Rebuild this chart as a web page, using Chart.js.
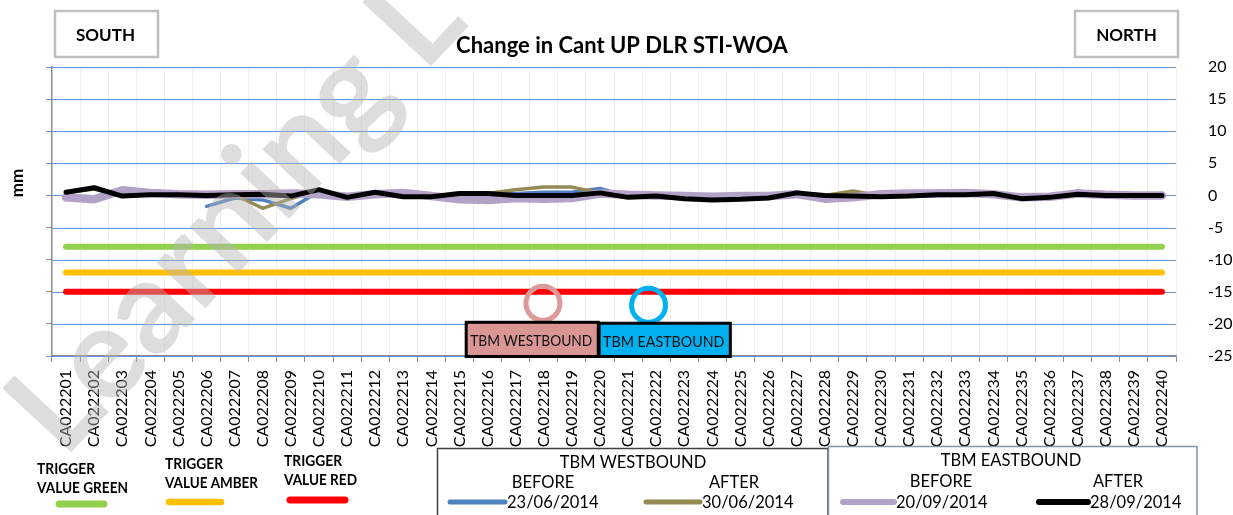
<!DOCTYPE html>
<html><head><meta charset="utf-8">
<script src="https://cdn.jsdelivr.net/npm/chart.js@4.4.1/dist/chart.umd.min.js"></script>
<style>html,body{margin:0;padding:0;background:#fff;}</style>
</head><body>
<canvas id="c" width="1233" height="515"></canvas>
<script>
const categories = ['CA022201','CA022202','CA022203','CA022204','CA022205','CA022206','CA022207','CA022208','CA022209','CA022210',
  'CA022211','CA022212','CA022213','CA022214','CA022215','CA022216','CA022217','CA022218','CA022219','CA022220',
  'CA022221','CA022222','CA022223','CA022224','CA022225','CA022226','CA022227','CA022228','CA022229','CA022230',
  'CA022231','CA022232','CA022233','CA022234','CA022235','CA022236','CA022237','CA022238','CA022239','CA022240'];
// TBM WESTBOUND BEFORE 23/06/2014
const wbBefore = [null,null,null,null,null,-1.7,-0.4,-0.7,-2.0,0.6,-0.2,0.4,-0.2,-0.2,0.2,0.2,0.3,0.5,0.5,1.1,
  -0.2,-0.1,-0.4,-0.5,-0.4,-0.3,0.3,0,-0.1,-0.1,0,0.1,0.1,0.2,-0.4,-0.2,0.7,0.1,0.1,0];
// TBM WESTBOUND AFTER 30/06/2014
const wbAfter = [0.4,1.0,0,0.2,0.1,0.2,0.1,-2.0,-0.5,0.7,-0.2,0.4,-0.2,-0.2,0.2,0.3,0.9,1.3,1.3,0.4,
  -0.2,-0.1,-0.4,-0.5,-0.4,-0.3,0.3,0,0.7,-0.1,0,0.1,0.1,0.2,-0.4,-0.2,0.3,0.2,0.1,0.1];
// TBM EASTBOUND BEFORE 20/09/2014
const ebBefore = [-0.3,-0.6,0.8,0.4,0.2,0.1,0.2,0.2,0.3,0.2,-0.2,0.2,0.4,-0.1,-0.6,-0.7,-0.4,-0.5,-0.4,0.3,
  0.1,0,-0.1,-0.2,-0.1,-0.1,0.2,-0.5,-0.3,0.2,0.3,0.3,0.4,0.2,-0.3,-0.2,0.3,0.1,0,0];
// TBM EASTBOUND AFTER 28/09/2014
const ebAfter = [0.5,1.2,-0.1,0.1,0.1,0,0.1,0.2,-0.1,0.9,-0.3,0.5,-0.2,-0.2,0.3,0.3,0,0,0,0.4,
  -0.3,-0.1,-0.5,-0.7,-0.6,-0.4,0.4,0,-0.1,-0.2,-0.1,0.1,0.1,0.3,-0.5,-0.3,0.2,0,0,0];
const triggerGreen = -8, triggerAmber = -12, triggerRed = -15;
const yTickValues = [20,15,10,5,0,-5,-10,-15,-20,-25];

Chart.defaults.font.family = 'Lato, "Open Sans", sans-serif';

function txt(ctx, s, x, y, font, align, maxW, color) {
  ctx.font = font; ctx.textAlign = align || 'left'; ctx.textBaseline = 'alphabetic';
  ctx.fillStyle = color || '#000';
  if (maxW) ctx.fillText(s, x, y, maxW); else ctx.fillText(s, x, y);
}
function seg(ctx, x1, y1, x2, y2, color, w) {
  ctx.beginPath(); ctx.moveTo(x1, y1); ctx.lineTo(x2, y2);
  ctx.strokeStyle = color; ctx.lineWidth = w; ctx.lineCap = 'round'; ctx.stroke();
}

const deco = {
  id: 'deco',
  beforeDatasetsDraw(chart) {
    const ctx = chart.ctx, ys = chart.scales.y, a = chart.chartArea;
    ctx.save();
    ctx.strokeStyle = '#5f95dd'; ctx.lineWidth = 1.2;
    ys.ticks.forEach(t => {
      const py = Math.round(ys.getPixelForValue(t.value)) + 0.5;
      ctx.beginPath(); ctx.moveTo(a.left, py); ctx.lineTo(a.right, py); ctx.stroke();
    });
    ctx.restore();
  },
  afterDatasetsDraw(chart) {
    const ctx = chart.ctx, xs = chart.scales.x, ys = chart.scales.y;
    ctx.save();
    ctx.lineWidth = 5;
    ctx.strokeStyle = '#dc9b99';
    ctx.beginPath(); ctx.arc(xs.getPixelForValue(16.97), ys.getPixelForValue(-16.8), 17, 0, Math.PI * 2); ctx.stroke();
    ctx.strokeStyle = '#00b0f0';
    ctx.beginPath(); ctx.arc(xs.getPixelForValue(20.73), ys.getPixelForValue(-17.1), 17, 0, Math.PI * 2); ctx.stroke();
    const boxes = [
      { x1: 14.24, x2: 18.94, y1: -19.75, fill: '#d99694', label: 'TBM WESTBOUND' },
      { x1: 18.97, x2: 23.64, y1: -19.9, fill: '#00b0f0', label: 'TBM EASTBOUND' }
    ];
    boxes.forEach(b => {
      const l = xs.getPixelForValue(b.x1), r = xs.getPixelForValue(b.x2);
      const t = ys.getPixelForValue(b.y1), bt = ys.getPixelForValue(-25) + 0.5;
      ctx.fillStyle = b.fill; ctx.fillRect(l, t, r - l, bt - t);
      ctx.strokeStyle = '#000'; ctx.lineWidth = 3; ctx.strokeRect(l, t, r - l, bt - t);
      txt(ctx, b.label, l + 4, t + 24, '14.5px Lato', 'left', r - l - 10, '#111');
    });
    ctx.restore();
  },
  afterDraw(chart) {
    const ctx = chart.ctx;
    ctx.save();
    txt(ctx, 'Change in Cant UP DLR STI-WOA', 622, 53, 'bold 22px Lato', 'center', 340);
    ctx.strokeStyle = '#bfbfbf'; ctx.lineWidth = 2.5;
    ctx.strokeRect(55, 11, 103, 46);
    ctx.strokeRect(1075, 11, 103, 46);
    txt(ctx, 'SOUTH', 105.5, 41, 'bold 17px Lato', 'center', 62);
    txt(ctx, 'NORTH', 1126.5, 41, 'bold 17px Lato', 'center', 63);
    ctx.save(); ctx.translate(23, 183); ctx.rotate(-Math.PI / 2);
    txt(ctx, 'mm', 0, 0, 'bold 17px Lato', 'center');
    ctx.restore();
    txt(ctx, 'TRIGGER', 37, 473.5, 'bold 15px Lato', 'left', 58);
    txt(ctx, 'VALUE GREEN', 37, 493, 'bold 15px Lato', 'left', 91);
    seg(ctx, 59, 504, 104, 504, '#92d050', 7);
    txt(ctx, 'TRIGGER', 165, 469, 'bold 15px Lato', 'left', 58);
    txt(ctx, 'VALUE AMBER', 165, 488, 'bold 15px Lato', 'left', 93);
    seg(ctx, 169, 502, 221, 502, '#ffc000', 6.5);
    txt(ctx, 'TRIGGER', 284, 466, 'bold 15px Lato', 'left', 58);
    txt(ctx, 'VALUE RED', 284, 485, 'bold 15px Lato', 'left', 73);
    seg(ctx, 290, 500, 345, 500, '#ff0000', 7);
    ctx.lineWidth = 1.5;
    ctx.strokeStyle = '#404040'; ctx.strokeRect(437.5, 448.5, 390.5, 80);
    ctx.strokeStyle = '#7f93ad'; ctx.strokeRect(828.5, 446.5, 368.5, 80);
    const lf = '16.5px Lato';
    txt(ctx, 'TBM WESTBOUND', 633, 468, lf, 'center');
    txt(ctx, 'BEFORE', 543, 488, lf, 'center');
    txt(ctx, 'AFTER', 734, 488, lf, 'center');
    seg(ctx, 450, 502, 505, 502, '#4f81bd', 5);
    txt(ctx, '23/06/2014', 507, 508, lf, 'left');
    seg(ctx, 646, 502, 700, 502, '#948a54', 5);
    txt(ctx, '30/06/2014', 702, 508, lf, 'left');
    txt(ctx, 'TBM EASTBOUND', 1011, 466, lf, 'center');
    txt(ctx, 'BEFORE', 941, 487, lf, 'center');
    txt(ctx, 'AFTER', 1118, 487, lf, 'center');
    seg(ctx, 843, 502, 894, 502, '#b3a2c7', 6);
    txt(ctx, '20/09/2014', 896, 508, lf, 'left');
    seg(ctx, 1039, 502, 1088, 502, '#000000', 6);
    txt(ctx, '28/09/2014', 1090, 508, lf, 'left');
    // watermark
    ctx.save();
    ctx.translate(64, 460); ctx.rotate(-47 * Math.PI / 180);
    txt(ctx, 'Learning L', 0, 0, 'bold 130px Lato', 'left', null, 'rgba(180,180,180,0.45)');
    ctx.restore();
    ctx.restore();
  }
};

const trig = (v) => [{ x: categories[0], y: v }, { x: categories[categories.length - 1], y: v }];

new Chart(document.getElementById('c'), {
  type: 'line',
  data: {
    labels: categories,
    datasets: [
      { label: '28/09/2014', data: ebAfter, borderColor: '#000000', borderWidth: 5, order: 1 },
      { label: '20/09/2014', data: ebBefore, borderColor: '#b3a2c7', borderWidth: 8.5, order: 2 },
      { label: '30/06/2014', data: wbAfter, borderColor: '#948a54', borderWidth: 3.5, order: 3 },
      { label: '23/06/2014', data: wbBefore, borderColor: '#4f81bd', borderWidth: 3.5, order: 4 },
      { label: 'TRIGGER VALUE GREEN', data: trig(triggerGreen), borderColor: '#92d050', borderWidth: 6, order: 5 },
      { label: 'TRIGGER VALUE AMBER', data: trig(triggerAmber), borderColor: '#ffc000', borderWidth: 6, order: 6 },
      { label: 'TRIGGER VALUE RED', data: trig(triggerRed), borderColor: '#ff0000', borderWidth: 6, order: 7 }
    ]
  },
  options: {
    responsive: false, animation: false, events: [],
    layout: { padding: { top: 67, left: 0, right: 0, bottom: 0 } },
    plugins: { legend: { display: false }, tooltip: { enabled: false }, title: { display: false } },
    elements: {
      point: { radius: 0 },
      line: { tension: 0, borderJoinStyle: 'round', borderCapStyle: 'round', fill: false }
    },
    scales: {
      x: {
        offset: true,
        grid: { offset: true, color: '#f0eee6', tickColor: '#8c8c8c', tickLength: 6, lineWidth: 1 },
        border: { color: '#8c8c8c', width: 1.5 },
        ticks: { autoSkip: false, maxRotation: 90, minRotation: 90, padding: 8, color: '#000', font: { size: 16 } },
        afterFit(s) { s.height = 159; }
      },
      y: {
        position: 'right', min: -25, max: 20,
        afterBuildTicks(s) { s.ticks = yTickValues.map(v => ({ value: v })); },
        ticks: { padding: 24, color: '#000', font: { size: 16 } },
        grid: { display: false },
        border: { display: false },
        afterFit(s) { s.width = 57; }
      },
      yl: {
        position: 'left', min: -25, max: 20,
        afterBuildTicks(s) { s.ticks = yTickValues.map(v => ({ value: v })); },
        ticks: { display: false },
        grid: { drawOnChartArea: false, tickColor: '#8c8c8c', tickLength: 6 },
        border: { color: '#8c8c8c', width: 1.5 },
        afterFit(s) { s.width = 52; }
      }
    }
  },
  plugins: [deco]
});
</script>
</body></html>
